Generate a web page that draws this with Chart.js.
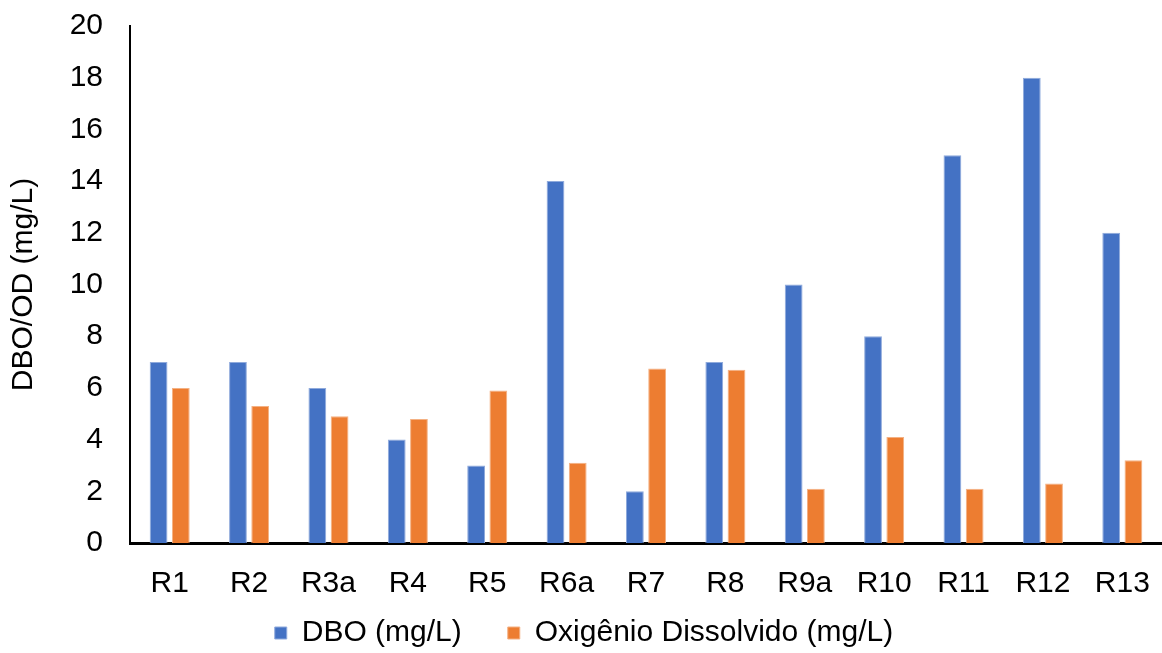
<!DOCTYPE html>
<html><head><meta charset="utf-8">
<script src="https://cdn.jsdelivr.net/npm/chart.js@4/dist/chart.umd.min.js"></script>
<style>html,body{margin:0;padding:0;background:#fff}#wrap{width:1162px;height:653px}</style>
</head><body><div id="wrap"><canvas id="c" width="1162" height="653"></canvas></div>
<script>
const categories = ["R1","R2","R3a","R4","R5","R6a","R7","R8","R9a","R10","R11","R12","R13"];
const dbo = [7,7,6,4,3,14,2,7,10,8,15,18,12];
const od = [6,5.3,4.9,4.8,5.9,3.1,6.75,6.7,2.1,4.1,2.1,2.3,3.2];
const yTicks = [0,2,4,6,8,10,12,14,16,18,20];

const font = {family:"'Liberation Sans', Arial, sans-serif", size:30};
const legendPad = 46;
new Chart(document.getElementById('c'), {
  type:'bar',
  data:{labels:categories, datasets:[
    {label:'DBO (mg/L)', data:dbo, backgroundColor:'#4472C4', borderColor:'#8FAADC', borderWidth:1},
    {label:'Oxigênio Dissolvido (mg/L)', data:od, backgroundColor:'#ED7D31', borderColor:'#F4B183', borderWidth:1}
  ]},
  options:{
    responsive:false, animation:false,
    datasets:{bar:{categoryPercentage:0.56, barPercentage:0.8}},
    layout:{padding:{top:26,right:-6,left:0,bottom:-5}},
    plugins:{
      legend:{position:'bottom', labels:{font:font, color:'#000', boxWidth:12, boxHeight:12, padding:legendPad}},
      tooltip:{enabled:false}
    },
    scales:{
      x:{grid:{display:false, drawTicks:false}, border:{display:true,color:'#000',width:3},
         afterFit:(s)=>{s.height=75-legendPad; s.paddingLeft=0; s.paddingRight=0; s._computeLabelArea=()=>undefined;},
         ticks:{font:font,color:'#000',padding:23}},
      y:{min:0,max:20, afterBuildTicks:(s)=>{s.ticks=yTicks.map(v=>({value:v}));},
         afterFit:(s)=>{s.width=130; s.paddingTop=0; s.paddingBottom=0;},
         grid:{display:false, drawTicks:false}, border:{display:true,color:'#000',width:2},
         ticks:{font:font,color:'#000',padding:27},
         title:{display:true,text:'DBO/OD (mg/L)',font:font,color:'#000',padding:{top:6,bottom:0}}}
    }
  }
});
</script></body></html>
